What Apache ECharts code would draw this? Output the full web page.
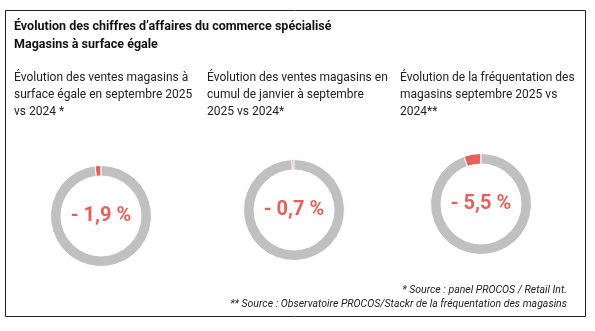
<!DOCTYPE html>
<html>
<head>
<meta charset="utf-8">
<script src="https://cdn.jsdelivr.net/npm/echarts@6/dist/echarts.min.js"></script>
<style>
  html, body { margin: 0; padding: 0; background: #fff; }
  #chart { width: 595px; height: 331px; }
</style>
</head>
<body>
<div id="chart"></div>
<script>
// Chiffres d'affaires du commerce spécialisé, magasins à surface égale
const indicators = [
  "Évolution des ventes magasins à\nsurface égale en septembre 2025\nvs 2024 *",
  "Évolution des ventes magasins en\ncumul de janvier à septembre\n2025 vs 2024*",
  "Évolution de la fréquentation des\nmagasins septembre 2025 vs\n2024**"
];
const declines = [1.9, 0.7, 5.5];          // baisse en %
const valueLabels = ["- 1,9 %", "- 0,7 %", "- 5,5 %"];
const sources = [
  "* Source : panel PROCOS / Retail Int.",
  "** Source : Observatoire PROCOS/Stackr de la fréquentation des magasins"
];

const FONT = "Roboto, 'Noto Sans', sans-serif";
const RED = "#e5605a";
const GREY = "#c0c0c0";

const colX = [14, 207, 400];
const centers = [[101, 216], [294, 210], [481, 204]];

const chart = echarts.init(document.getElementById("chart"), null, { renderer: "canvas" });

const titles = [{
  text: "Évolution des chiffres d’affaires du commerce spécialisé\nMagasins à surface égale",
  left: 14, top: 18, padding: 0,
  textStyle: { fontFamily: FONT, fontSize: 12.5, fontWeight: "bold", color: "#111", lineHeight: 18 }
}];
indicators.forEach((t, i) => {
  titles.push({
    text: t, left: colX[i], top: 69, padding: 0,
    textStyle: { fontFamily: FONT, fontSize: 12, fontWeight: "normal", color: "#222", lineHeight: 17 }
  });
});

const series = declines.map((v, i) => ({
  type: "pie",
  center: centers[i],
  radius: [40, 50.5],
  startAngle: 90,
  clockwise: false,
  silent: true,
  animation: false,
  labelLine: { show: false },
  itemStyle: { borderColor: "#fff", borderWidth: 1 },
  data: [
    { value: v, itemStyle: { color: RED },
      label: { show: true, position: "center", formatter: valueLabels[i],
        fontFamily: FONT, fontSize: 20, fontWeight: "bold", color: RED } },
    { value: 100 - v, itemStyle: { color: GREY }, label: { show: false } }
  ]
}));

chart.setOption({
  animation: false,
  title: titles,
  graphic: [
    { type: "rect", shape: { x: 5.5, y: 10.5, width: 580, height: 306 },
      style: { fill: "none", stroke: "#222", lineWidth: 1 } },
    { type: "text", right: 28, top: 285,
      style: { text: sources[0], font: "italic 10.5px " + FONT, fill: "#222", textAlign: "right" } },
    { type: "text", right: 28, top: 299,
      style: { text: sources[1], font: "italic 10.5px " + FONT, fill: "#222", textAlign: "right" } }
  ],
  series: series
});
</script>
</body>
</html>
